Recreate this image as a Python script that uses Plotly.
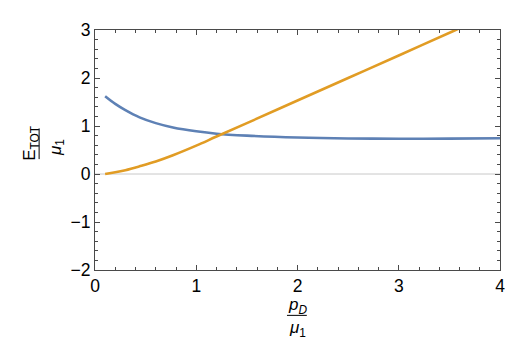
import plotly.graph_objects as go

# curve samples (x = p_D / mu_1)
x_blue = [0.1, 0.2, 0.3, 0.44, 0.6, 0.77, 1.0, 1.2, 1.5, 2.0, 2.5, 3.0, 3.5, 4.0]
y_blue = [1.62, 1.46, 1.33, 1.18, 1.06, 0.97, 0.89, 0.84, 0.80, 0.76, 0.74, 0.735, 0.738, 0.745]

x_orange = [0.1, 0.2, 0.3, 0.44, 0.6, 0.77, 1.0, 1.2, 1.5, 2.0, 2.5, 3.0, 3.54, 4.0]
y_orange = [0.0, 0.035, 0.08, 0.16, 0.26, 0.39, 0.59, 0.78, 1.06, 1.53, 2.0, 2.47, 2.98, 3.41]

x_ticks = [0, 1, 2, 3, 4]
y_ticks = [-2, -1, 0, 1, 2, 3]

frame = '#4a4a4a'
font = 'Liberation Sans, Arial, sans-serif'

fig = go.Figure()
fig.add_trace(go.Scatter(x=x_blue, y=y_blue, mode='lines',
                         line=dict(color='#5E81B5', width=2.6, shape='spline')))
fig.add_trace(go.Scatter(x=x_orange, y=y_orange, mode='lines',
                         line=dict(color='#E19C24', width=2.6, shape='spline')))

axis_common = dict(
    showgrid=False, zeroline=False,
    showline=True, linecolor=frame, linewidth=1, mirror='allticks',
    ticks='inside', ticklen=5, tickcolor=frame, tickwidth=1,
    tickfont=dict(family=font, size=17.5, color='black'),
    minor=dict(ticks='inside', ticklen=3, tickcolor=frame, dtick=0.2, showgrid=False),
)

fig.update_xaxes(range=[0, 4], tickvals=x_ticks, **axis_common)
fig.update_yaxes(range=[-2, 3], tickvals=y_ticks, **axis_common)

# light zero line
fig.add_hline(y=0, line=dict(color='#c8c8c8', width=1), layer='below')

label_font = dict(family=font, size=17, color='black')
centered = dict(xref='paper', yref='paper', showarrow=False,
                xanchor='center', yanchor='middle', font=label_font)

# x label: p_D / mu_1
fig.add_annotation(text='<i>p</i><sub><i>D</i></sub>', x=0.499, y=-0.150, **centered)
fig.add_shape(type='line', xref='paper', yref='paper', x0=0.474, x1=0.523,
              y0=-0.189, y1=-0.189, line=dict(color='black', width=1))
fig.add_annotation(text='<i>μ</i><sub>1</sub>', x=0.499, y=-0.247, **centered)

# y label: E_TOT / mu_1 (rotated)
fig.add_annotation(text='E<sub>TOT</sub>', x=-0.158, y=0.526, textangle=-90, **centered)
fig.add_shape(type='line', xref='paper', yref='paper', x0=-0.138, x1=-0.138,
              y0=0.462, y1=0.590, line=dict(color='black', width=1))
fig.add_annotation(text='<i>μ</i><sub>1</sub>', x=-0.094, y=0.512, textangle=-90, **centered)

# page body has an 8px margin, so shift the figure back by that much
fig.update_layout(
    width=514, height=339,
    margin=dict(l=87, r=22, t=13, b=77),
    plot_bgcolor='white', paper_bgcolor='white',
    showlegend=False,
)

fig.write_html("out.html")
